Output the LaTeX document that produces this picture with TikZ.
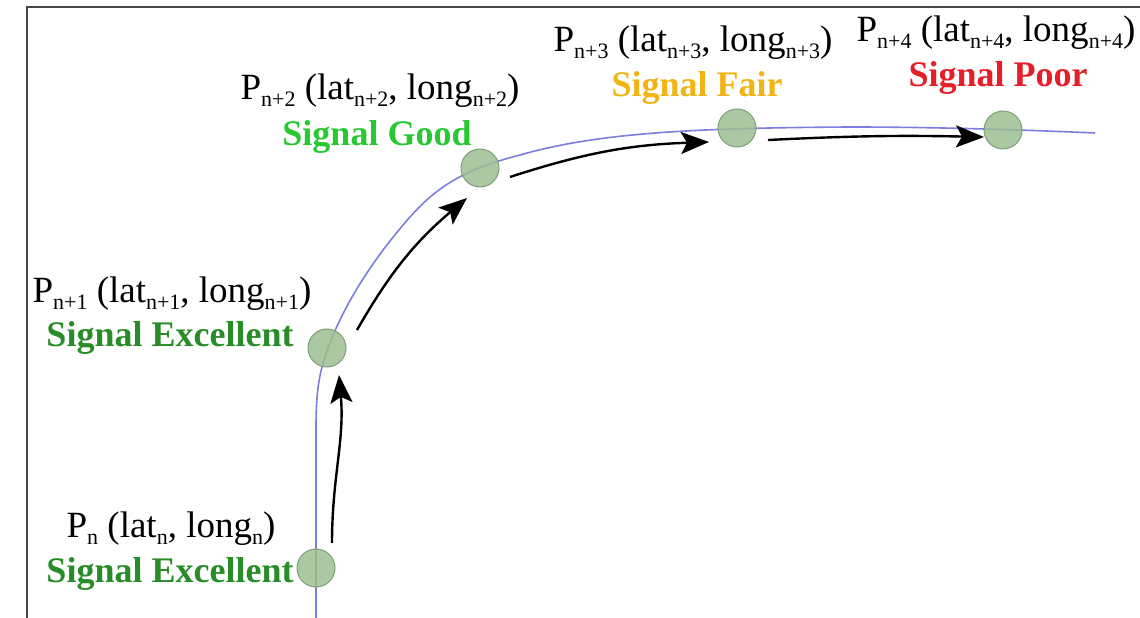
\documentclass[tikz,border=0pt]{standalone}
\usepackage{fontspec}
\setmainfont{Liberation Serif}
\usetikzlibrary{arrows.meta}
\definecolor{framec}{RGB}{70,70,70}
\definecolor{roadc}{RGB}{125,125,225}
\definecolor{ptfill}{RGB}{155,190,145}
\definecolor{ptdraw}{RGB}{125,160,120}
\definecolor{excc}{RGB}{40,140,40}
\definecolor{goodc}{RGB}{40,200,50}
\definecolor{fairc}{RGB}{240,180,20}
\definecolor{poorc}{RGB}{230,30,40}
\newcommand\lsub[1]{\raisebox{-0.36ex}{\fontsize{22}{22}\selectfont #1}}
\begin{document}
\begin{tikzpicture}[x=1pt,y=1pt,
  ptnode/.style={circle,minimum size=38pt,inner sep=0,fill=ptfill,fill opacity=0.85,draw=ptdraw,line width=1pt},
  coordtext/.style={font=\fontsize{37}{40}\selectfont,inner sep=0,anchor=base},
  sigtext/.style={font=\fontsize{36}{40}\selectfont\bfseries,inner sep=0,anchor=base},
  mv/.style={line width=2.4pt,-{Stealth[length=28pt,width=22pt,inset=6pt]}}]
\useasboundingbox (0,0) rectangle (1140,618);
\draw[framec,line width=2pt] (27,0) -- (27,611) -- (1140,611);
\draw[roadc,line width=1.6pt] (316,0) -- (316,190)
  .. controls (316,230) and (320,248) .. (328,270)
  .. controls (340,303) and (365,350) .. (410,401)
  .. controls (440,435) and (470,450) .. (520,463)
  .. controls (600,486) and (700,490) .. (850,491)
  .. controls (950,491) and (1050,487) .. (1095,485);
\node[ptnode] (p0) at (316,50) {};
\node[ptnode] (p1) at (327,270) {};
\node[ptnode] (p2) at (480,450) {};
\node[ptnode] (p3) at (737,490) {};
\node[ptnode] (p4) at (1003,488) {};
% labels
\node[coordtext] (l0) at (171,80) {P\lsub{n} (lat\lsub{n}, long\lsub{n})};
\node[sigtext,text=excc] (s0) at (170,35) {Signal Excellent};
\node[coordtext] (l1) at (172,315) {P\lsub{n+1} (lat\lsub{n+1}, long\lsub{n+1})};
\node[sigtext,text=excc] (s1) at (170,271) {Signal Excellent};
\node[coordtext] (l2) at (380,518) {P\lsub{n+2} (lat\lsub{n+2}, long\lsub{n+2})};
\node[sigtext,text=goodc] (s2) at (377,472) {Signal Good};
\node[coordtext] (l3) at (693,566) {P\lsub{n+3} (lat\lsub{n+3}, long\lsub{n+3})};
\node[sigtext,text=fairc] (s3) at (697,521) {Signal Fair};
\node[coordtext] (l4) at (996,576) {P\lsub{n+4} (lat\lsub{n+4}, long\lsub{n+4})};
\node[sigtext,text=poorc] (s4) at (998,531) {Signal Poor};
% movement arrows
\coordinate (a1s) at (332,75); \coordinate (a1e) at (339,243);
\coordinate (a2s) at (357,288); \coordinate (a2e) at (467,420);
\coordinate (a3s) at (510,441); \coordinate (a3e) at (709,476);
\coordinate (a4s) at (768,478); \coordinate (a4e) at (984,481);
\draw[mv] (a1s) to[out=90,in=-85] (a1e);
\draw[mv] (a2s) to[bend left=10] (a2e);
\draw[mv] (a3s) to[bend left=8] (a3e);
\draw[mv] (a4s) to[bend left=2] (a4e);
\end{tikzpicture}
\end{document}
